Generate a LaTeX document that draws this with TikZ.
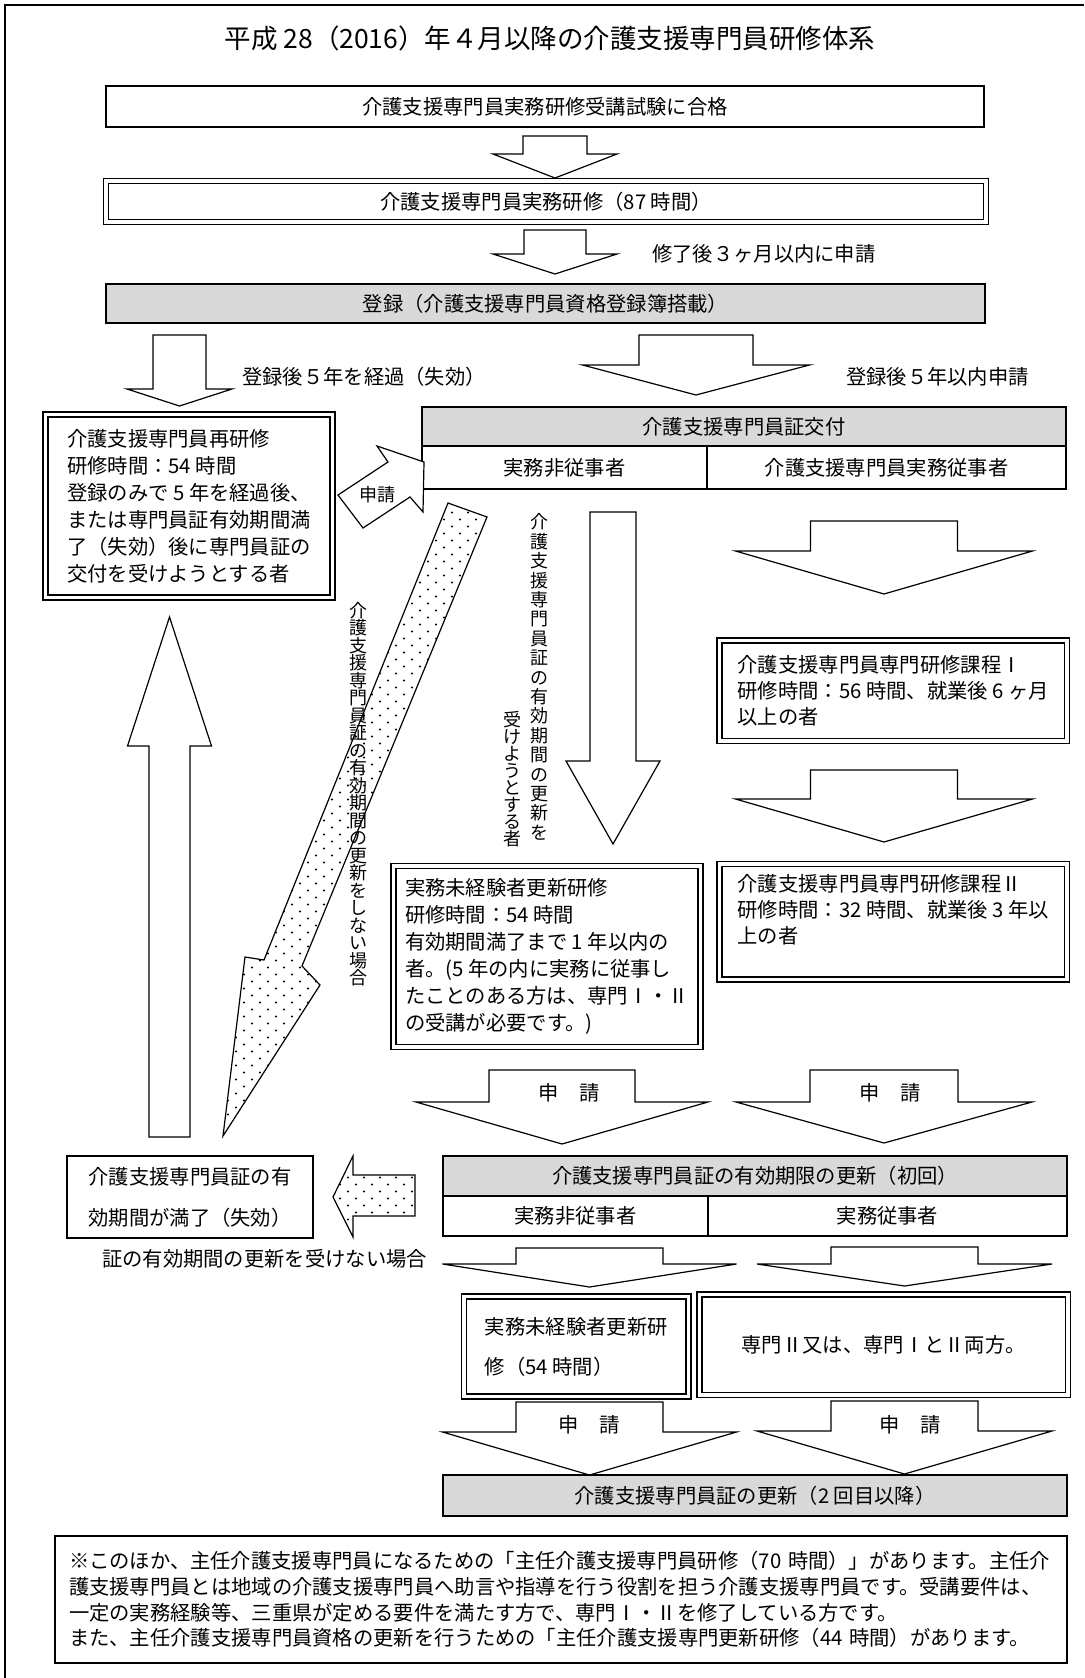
\documentclass[tikz,border=0pt]{standalone}
\usepackage{fontspec}
\setmainfont{Noto Sans CJK JP}
\usetikzlibrary{patterns}

\pgfdeclarepatternformonly{sparsedots}{\pgfpoint{-1pt}{-1pt}}{\pgfpoint{17pt}{15pt}}{\pgfpoint{16pt}{14pt}}{%
  \pgfpathcircle{\pgfpoint{4pt}{3.5pt}}{1.1pt}%
  \pgfpathcircle{\pgfpoint{12pt}{10.5pt}}{1.1pt}%
  \pgfusepath{fill}}

\newcommand{\bodyfont}{\fontsize{20.3}{27}\selectfont}
\newcommand{\titlefont}{\fontsize{26.5}{30}\selectfont}
\newcommand{\tatefont}[1]{\fontsize{18}{#1}\selectfont\lineskiplimit=-10pt\relax}

% block arrow: centre x, shaft end y, shaft half width, head base y, head half width, tip y
\newcommand{\blockarrow}[7][blockarr]{%
  \draw[#1] (#2-#4,#3) -- (#2+#4,#3) -- (#2+#4,#5) -- (#2+#6,#5)
    -- (#2,#7) -- (#2-#6,#5) -- (#2-#4,#5) -- cycle;}

\begin{document}
\begin{tikzpicture}[
    x=1pt, y=-1pt,
    box/.style={draw, line width=1.2pt, inner sep=0pt, font=\bodyfont},
    dblbox/.style={draw, double, double distance=3.8pt, line width=1.2pt, inner sep=0pt, align=left, font=\bodyfont},
    graybox/.style={box, fill=black!15},
    blockarr/.style={draw, line width=1.2pt, fill=white},
    dotarr/.style={draw, line width=1.2pt, fill=white, postaction={pattern=sparsedots}},
    lbl/.style={inner sep=0pt, font=\bodyfont},
    vtext/.style={inner sep=0pt, align=center}
]
\useasboundingbox (0,0) rectangle (1084,1678);

% Frame and title
\draw[line width=1.2pt] (5,1678) -- (5,5) -- (1084,5);
\node[lbl, font=\titlefont] (title) at (550,38) {平成 28（2016）年４月以降の介護支援専門員研修体系};

% Main column
\node[box, minimum width=878pt, minimum height=41pt] (exam) at (545,106.5) {介護支援専門員実務研修受講試験に合格};
\blockarrow{555}{136}{32}{154}{62}{178}
\node[dblbox, minimum width=880pt, minimum height=41pt] (jitsumu) at (546,201.5) {介護支援専門員実務研修（87 時間）};
\blockarrow{555}{230}{31}{254}{62}{274}
\node[lbl, anchor=west] (lblsanka) at (652,254) {修了後３ヶ月以内に申請};
\node[graybox, minimum width=879pt, minimum height=39pt] (touroku) at (545.5,303.5) {登録（介護支援専門員資格登録簿搭載）};

\blockarrow{179.5}{335}{26.5}{389}{52.5}{406}
\node[lbl] (lblkeika) at (364,377) {登録後５年を経過（失効）};
\blockarrow{696}{335}{57}{365}{113.5}{395}
\node[lbl] (lblnai) at (937.5,377) {登録後５年以内申請};

% Re-training
\node[dblbox, minimum width=287pt, minimum height=183pt] (saiken) at (189,506)
  {介護支援専門員再研修\\研修時間：54 時間\\登録のみで 5 年を経過後、\\または専門員証有効期間満\\了（失効）後に専門員証の\\交付を受けようとする者};

% Certificate issue
\node[graybox, minimum width=644pt, minimum height=39pt] (koufu) at (744,426.5) {介護支援専門員証交付};
\node[box, minimum width=285pt, minimum height=43pt] (koufuA) at (564.5,467.5) {実務非従事者};
\node[box, minimum width=359pt, minimum height=43pt] (koufuB) at (886.5,467.5) {介護支援専門員実務従事者};

\draw[blockarr] (338,495) -- (388,462) -- (377,446) -- (424,462) -- (423,512) -- (410,497) -- (363,528) -- cycle;
\node[lbl, font=\fontsize{18}{20}\selectfont] (shinsei0) at (377,495) {申請};

% No renewal
\draw[dotarr] (448,503) -- (487,517) -- (302,966) -- (320,985) -- (223,1136) -- (245,957) -- (264,960) -- cycle;
\node[vtext, font=\tatefont{17.5}] (shinai) at (358,794)
  {介\\護\\支\\援\\専\\門\\員\\証\\の\\有\\効\\期\\間\\の\\更\\新\\を\\し\\な\\い\\場\\合};
\blockarrow{169.5}{1137}{20.5}{746}{42}{617}

% Non-practising renewal
\blockarrow{613}{512}{23}{761}{47}{844}
\node[vtext, font=\tatefont{19.4}] (ukeru1) at (539,677)
  {介\\護\\支\\援\\専\\門\\員\\証\\の\\有\\効\\期\\間\\の\\更\\新\\を};
\node[vtext, font=\tatefont{17}] (ukeru2) at (512,779.5)
  {受\\け\\よ\\う\\と\\す\\る\\者};
\node[dblbox, minimum width=307pt, minimum height=181pt] (mikeiken) at (547,956.5)
  {実務未経験者更新研修\\研修時間：54 時間\\有効期間満了まで 1 年以内の\\者。(5 年の内に実務に従事し\\たことのある方は、専門Ⅰ・Ⅱ\\の受講が必要です。)};

% Practising: specialist courses
\blockarrow{884}{521}{73.5}{551}{148.5}{594}
\node[dblbox, minimum width=347.5pt, minimum height=100.5pt, font=\fontsize{20.3}{26}\selectfont] (senmon1) at (893.25,690.75)
  {介護支援専門員専門研修課程Ⅰ\\研修時間：56 時間、就業後 6 ヶ月\\以上の者};
\blockarrow{884}{770}{73.5}{799}{148.5}{842}
\node[dblbox, minimum width=347.5pt, minimum height=115.5pt, font=\fontsize{20.3}{26}\selectfont] (senmon2) at (893.25,921.75)
  {介護支援専門員専門研修課程Ⅱ\\研修時間：32 時間、就業後 3 年以\\上の者\\\mbox{}};

% First renewal
\blockarrow{562}{1070}{73}{1102}{146}{1144}
\node[lbl] (shinsei1) at (569,1093) {申　請};
\blockarrow{884}{1070}{74}{1102}{148}{1143}
\node[lbl] (shinsei2) at (890,1093) {申　請};

\node[graybox, minimum width=624pt, minimum height=40pt] (koushin) at (755,1176) {介護支援専門員証の有効期限の更新（初回）};
\node[box, minimum width=265pt, minimum height=40pt] (koushinA) at (575.5,1216) {実務非従事者};
\node[box, minimum width=359pt, minimum height=40pt] (koushinB) at (887.5,1216) {実務従事者};

\draw[dotarr] (415,1175) -- (353,1175) -- (353,1156) -- (333,1197) -- (353,1237) -- (353,1216) -- (415,1216) -- cycle;
\node[box, align=left, minimum width=246pt, minimum height=82pt, font=\fontsize{20.3}{41}\selectfont] (shikkou) at (190,1197)
  {介護支援専門員証の有\\効期間が満了（失効）};
\node[lbl] (lblukenai) at (264.5,1259) {証の有効期間の更新を受けない場合};

% Second and later renewals
\blockarrow{589.5}{1248}{73.5}{1264}{147}{1287}
\blockarrow{904.5}{1247}{73.5}{1264}{147.5}{1286}
\node[dblbox, minimum width=224.5pt, minimum height=100pt, font=\fontsize{20.3}{40}\selectfont] (mikeiken2) at (576.25,1346.5)
  {実務未経験者更新研\\修（54 時間）};
\node[dblbox, minimum width=368.5pt, minimum height=100.5pt] (senmon12) at (883.75,1344.75) {専門Ⅱ又は、専門ⅠとⅡ両方。};

\blockarrow{589.5}{1402}{73.5}{1432}{147}{1475}
\node[lbl] (shinsei3) at (589,1425) {申　請};
\blockarrow{904.5}{1401}{73.5}{1431}{147.5}{1474}
\node[lbl] (shinsei4) at (910,1425) {申　請};
\node[graybox, minimum width=624pt, minimum height=41pt] (koushin2) at (755,1495.5) {介護支援専門員証の更新（2 回目以降）};

% Note
\node[box, align=left, text width=984pt, inner xsep=14pt, minimum width=1012pt, minimum height=127pt, font=\fontsize{20.3}{25.8}\selectfont] (note) at (561,1599.5)
  {※このほか、主任介護支援専門員になるための「主任介護支援専門員研修（70 時間）」があります。主任介\\護支援専門員とは地域の介護支援専門員へ助言や指導を行う役割を担う介護支援専門員です。受講要件は、\\一定の実務経験等、三重県が定める要件を満たす方で、専門Ⅰ・Ⅱを修了している方です。\\また、主任介護支援専門員資格の更新を行うための「主任介護支援専門更新研修（44 時間）があります。};

\end{tikzpicture}
\end{document}
